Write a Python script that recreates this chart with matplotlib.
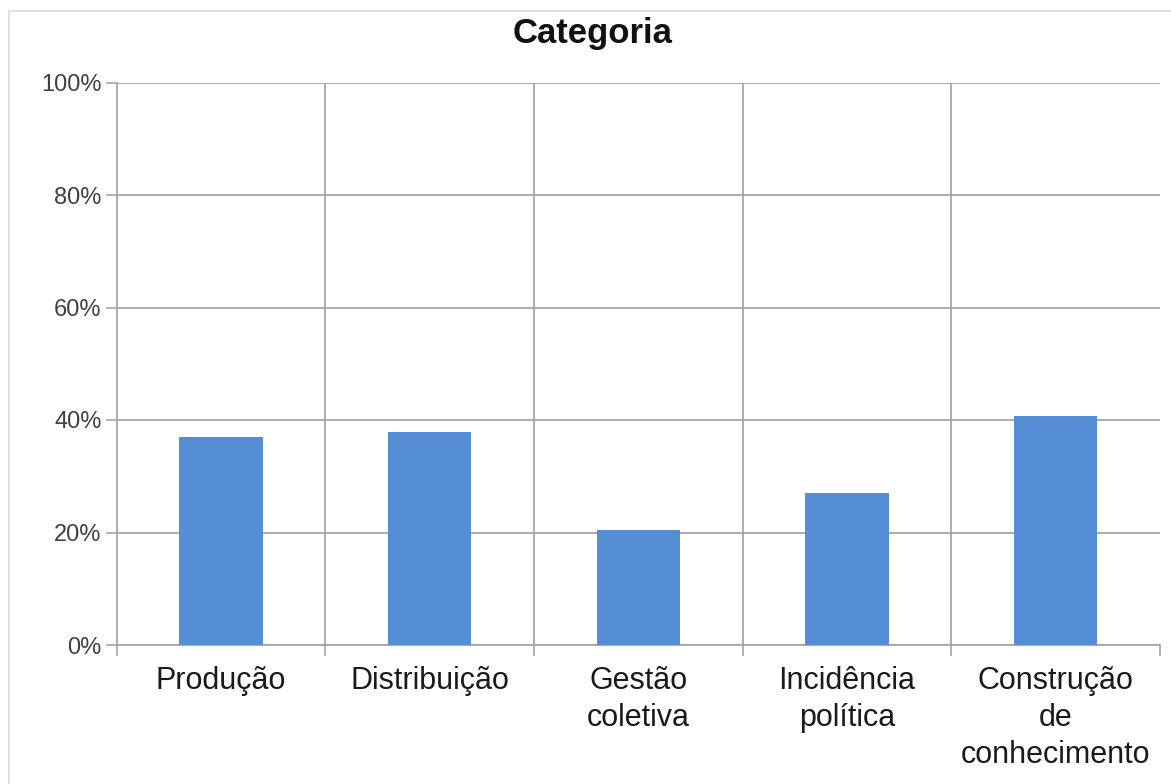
import numpy as np
import matplotlib
matplotlib.use("Agg")
from matplotlib import pyplot as plt
from matplotlib.patches import Rectangle
from matplotlib.ticker import FixedLocator, PercentFormatter

# data
categories = ["Produção", "Distribuição", "Gestão\ncoletiva",
              "Incidência\npolítica", "Construção\nde\nconhecimento"]
shares = [36.9, 37.8, 20.4, 27.1, 40.8]
y_ticks = [0, 20, 40, 60, 80, 100]

W, H = 1171, 784
grid_color = "#a6a6a6"
bar_color = "#558ed5"

plt.rcParams["font.family"] = ["Liberation Sans", "DejaVu Sans"]

fig = plt.figure(figsize=(W / 100, H / 100), dpi=100)
fig.patch.set_facecolor("white")

# thin outer chart frame (runs off the right/bottom edge)
fig.patches.append(Rectangle((9 / W, -1), 2, 2 - 11 / H, transform=fig.transFigure,
                             fill=False, edgecolor="#d9d9d9", linewidth=1.2))

ax = fig.add_axes([116.7 / W, 139 / H, (1160 - 116.7) / W, (645 - 82.5) / H])

n = len(categories)
centers = np.arange(n) + 0.5
ax.bar(centers, shares, width=0.4, color=bar_color, zorder=3)

ax.set_xlim(0, n)
ax.set_ylim(0, 100)

# category boundaries: tick marks below the axis and vertical gridlines
ax.xaxis.set_major_locator(FixedLocator(np.arange(n + 1)))
ax.xaxis.set_minor_locator(FixedLocator(centers))
ax.set_xticklabels([], minor=False)
ax.set_xticklabels(categories, minor=True)
ax.tick_params(axis="x", which="major", length=8, width=1.2, color=grid_color)
ax.tick_params(axis="x", which="minor", length=0, pad=15, labelsize=22,
               labelcolor="#1a1a1a")
for lbl in ax.get_xticklabels(minor=True):
    lbl.set_linespacing(1.3)
for b in range(1, n):
    ax.axvline(b, color=grid_color, linewidth=1.3, zorder=1)

ax.set_yticks(y_ticks)
ax.yaxis.set_major_formatter(PercentFormatter(decimals=0))
ax.tick_params(axis="y", length=8, width=1.2, color=grid_color, pad=3,
               labelsize=17, labelcolor="#404040")
ax.grid(axis="y", color=grid_color, linewidth=1.3, zorder=1)
ax.set_axisbelow(True)

for side in ["top", "right"]:
    ax.spines[side].set_visible(False)
for side in ["left", "bottom"]:
    ax.spines[side].set_color(grid_color)
    ax.spines[side].set_linewidth(1.3)

fig.text(593 / W, 1 - 33 / H, "Categoria", ha="center", va="center",
         fontsize=25, fontweight="bold", color="#111111")

fig.savefig("out.png", dpi=100)
